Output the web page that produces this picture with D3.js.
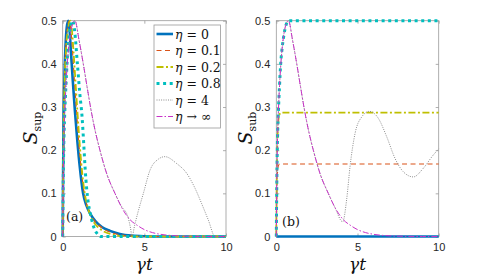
<!DOCTYPE html>
<html><head><meta charset="utf-8">
<script src="https://cdn.jsdelivr.net/npm/d3@7"></script>
<style>body{margin:0;background:#fff}svg{display:block}.m{font-family:"DejaVu Serif","Liberation Serif",serif}</style>
</head><body>
<svg id="c" width="485" height="276"></svg>
<script>
// ---------- data ----------
const xTicks = [0, 5, 10];
const yTicks = [0, 0.1, 0.2, 0.3, 0.4, 0.5];
const etaLabels = ["0", "0.1", "0.2", "0.8", "4", "∞"];

// panel (a): S_sup
const sup0 = [[0,0],[0.02,0.12],[0.05,0.25],[0.1,0.36],[0.17,0.44],[0.25,0.485],[0.34,0.5],[0.42,0.48],[0.5,0.43],[0.62,0.36],[0.75,0.29],[0.9,0.22],[1.05,0.16],[1.25,0.1],[1.45,0.072],[1.7,0.052],[2.0,0.036],[2.4,0.022],[2.9,0.013],[3.5,0.006],[4.2,0.002],[5,0.0005],[6,0],[10,0]];
const sup01 = [[0,0],[0.02,0.11],[0.05,0.23],[0.1,0.34],[0.18,0.43],[0.28,0.48],[0.4,0.5],[0.5,0.48],[0.6,0.43],[0.72,0.36],[0.85,0.29],[1.0,0.21],[1.15,0.15],[1.3,0.105],[1.5,0.07],[1.75,0.048],[2.05,0.032],[2.45,0.019],[2.9,0.01],[3.5,0.004],[4.2,0.001],[5,0],[10,0]];
const sup02 = [[0,0],[0.02,0.1],[0.05,0.22],[0.1,0.33],[0.2,0.43],[0.32,0.48],[0.46,0.5],[0.56,0.48],[0.66,0.43],[0.78,0.36],[0.9,0.29],[1.05,0.21],[1.2,0.145],[1.35,0.1],[1.55,0.065],[1.8,0.04],[2.1,0.024],[2.5,0.012],[3,0.005],[3.6,0.001],[4.5,0],[10,0]];
const sup08 = [[0,0],[0.03,0.12],[0.06,0.2],[0.12,0.28],[0.2,0.35],[0.28,0.41],[0.38,0.46],[0.5,0.49],[0.6,0.5],[0.72,0.48],[0.9,0.4],[1.05,0.33],[1.18,0.28],[1.28,0.22],[1.37,0.16],[1.47,0.11],[1.57,0.077],[1.68,0.055],[1.78,0.038],[1.9,0.022],[2.0,0.013],[2.15,0.005],[2.3,0],[10,0]];
const sup4 = [[0,0],[0.03,0.12],[0.06,0.2],[0.12,0.28],[0.2,0.35],[0.28,0.4],[0.4,0.45],[0.55,0.485],[0.75,0.5],[1.0,0.455],[1.26,0.4],[1.5,0.345],[1.75,0.29],[2.0,0.243],[2.28,0.2],[2.7,0.145],[3.2,0.1],[3.6,0.07],[4.0,0.045],[4.15,0.02],[4.25,0],[4.4,0.025],[4.6,0.055],[4.94,0.1],[5.35,0.154],[5.85,0.179],[6.26,0.185],[6.98,0.169],[7.6,0.146],[8.1,0.112],[8.5,0.077],[8.92,0.038],[9.33,0],[10,0]];
const supInf = [[0,0],[0.03,0.12],[0.06,0.2],[0.12,0.28],[0.2,0.35],[0.28,0.4],[0.4,0.45],[0.55,0.485],[0.75,0.5],[1.0,0.455],[1.26,0.4],[1.5,0.345],[1.75,0.29],[2.0,0.243],[2.28,0.2],[2.7,0.145],[3.2,0.1],[3.6,0.068],[4.1,0.04],[4.6,0.025],[5,0.016],[5.5,0.009],[6,0.005],[7,0.0015],[8,0.0004],[9,0],[10,0]];

// panel (b): S_sub
const sub0 = [[0,0],[10,0]];
const sub01 = [[0,0],[0.03,0.1],[0.07,0.145],[0.12,0.163],[0.2,0.168],[10,0.168]];
const sub02 = [[0,0],[0.03,0.13],[0.07,0.22],[0.12,0.265],[0.2,0.283],[0.3,0.287],[10,0.287]];
const sub08 = [[0,0],[0.03,0.12],[0.06,0.2],[0.12,0.28],[0.2,0.35],[0.27,0.4],[0.37,0.44],[0.47,0.467],[0.6,0.49],[0.75,0.5],[10,0.5]];
const sub4 = [[0,0],[0.03,0.12],[0.06,0.2],[0.12,0.28],[0.2,0.35],[0.28,0.4],[0.4,0.45],[0.55,0.485],[0.75,0.5],[1.0,0.455],[1.26,0.4],[1.5,0.345],[1.75,0.29],[2.0,0.243],[2.28,0.2],[2.7,0.145],[3.2,0.1],[3.6,0.068],[4.09,0.034],[4.33,0.085],[4.54,0.162],[4.85,0.239],[5.26,0.277],[5.73,0.29],[6.28,0.274],[6.8,0.231],[7.31,0.181],[7.82,0.15],[8.44,0.138],[9.05,0.158],[9.67,0.189],[10,0.203]];
const subInf = [[0,0],[0.03,0.12],[0.06,0.2],[0.12,0.28],[0.2,0.35],[0.28,0.4],[0.4,0.45],[0.55,0.485],[0.75,0.5],[1.0,0.455],[1.26,0.4],[1.5,0.345],[1.75,0.29],[2.0,0.243],[2.28,0.2],[2.7,0.145],[3.2,0.1],[3.6,0.068],[4.1,0.04],[4.6,0.025],[5,0.016],[5.5,0.009],[6,0.005],[7,0.0015],[8,0.0004],[9,0],[10,0]];

// ---------- styles ----------
const styles = [
  {color:"#0072BD", width:2.6, dash:null},
  {color:"#D95319", width:1.1, dash:"5,3.5"},
  {color:"#BFBF00", width:1.8, dash:"7,2.5,2,2.5"},
  {color:"#00BFBF", width:3, dash:"3,3.6"},
  {color:"#8c8c8c", width:1, dash:"1,1.3"},
  {color:"#C832C8", width:1, dash:"6,2,1.5,2"}
];

const svg = d3.select("#c");
const yRange = [236.5, 20.7];
const tickFont = "'Liberation Sans', Arial, Helvetica, sans-serif";

function panel(x0, x1, series, sub, tag, labelX, tagPos) {
  const x = d3.scaleLinear().domain([0,10]).range([x0, x1]);
  const y = d3.scaleLinear().domain([0,0.5]).range(yRange);
  const g = svg.append("g");
  const cid = "clip" + sub;
  svg.append("clipPath").attr("id", cid).append("rect")
    .attr("x", x0 - 3).attr("y", yRange[1] - 3).attr("width", x1 - x0 + 6).attr("height", yRange[0] - yRange[1] + 6);

  g.append("rect").attr("x", x0).attr("y", yRange[1]).attr("width", x1 - x0).attr("height", yRange[0] - yRange[1])
    .attr("fill", "#fff").attr("stroke", "#9a9a9a").attr("stroke-width", 0.8);

  const axB = d3.axisBottom(x).tickValues(xTicks).tickSize(-3).tickPadding(7).tickFormat(d3.format("d"));
  const axT = d3.axisTop(x).tickValues(xTicks).tickSize(-3).tickFormat("");
  const axL = d3.axisLeft(y).tickValues(yTicks).tickSize(-3).tickPadding(6).tickFormat(d => d === 0 ? "0" : d3.format(".1f")(d));
  const axR = d3.axisRight(y).tickValues(yTicks).tickSize(-3).tickFormat("");
  function style(sel) {
    sel.select(".domain").remove();
    sel.selectAll(".tick line").attr("stroke", "#9a9a9a").attr("stroke-width", 0.8);
    sel.selectAll(".tick text").attr("fill", "#262626").style("font-family", tickFont).style("font-size", "11px");
  }
  g.append("g").attr("transform", `translate(0,${yRange[0]})`).call(axB).call(style);
  g.append("g").attr("transform", `translate(0,${yRange[1]})`).call(axT).call(style);
  g.append("g").attr("transform", `translate(${x0},0)`).call(axL).call(style);
  g.append("g").attr("transform", `translate(${x1},0)`).call(axR).call(style);

  const line = d3.line().x(d => x(d[0])).y(d => y(d[1])).curve(d3.curveMonotoneX);
  const lg = g.append("g").attr("clip-path", `url(#${cid})`);
  series.forEach((s, i) => {
    const st = styles[i];
    lg.append("path").datum(s).attr("d", line).attr("fill", "none")
      .attr("stroke", st.color).attr("stroke-width", st.width)
      .attr("stroke-dasharray", st.dash).attr("stroke-linejoin", "round");
  });

  const xl = g.append("text").attr("class", "m").attr("x", (x0 + x1) / 2).attr("y", 270).attr("text-anchor", "middle")
    .style("font-size", "17px").style("font-style", "italic").attr("fill", "#111");
  xl.text("γt");

  const yl = g.append("text").attr("class", "m").attr("transform", `translate(${labelX},128) rotate(-90)`).attr("text-anchor", "middle")
    .attr("fill", "#111");
  yl.append("tspan").text("S").style("font-style", "italic").style("font-size", "19px");
  yl.append("tspan").text(sub).style("font-size", "11px").attr("dy", 4);

  g.append("text").attr("class", "m").attr("x", tagPos[0]).attr("y", tagPos[1]).text(tag)
    .style("font-size", "12.5px").attr("fill", "#111");
  return g;
}

panel(62.7, 226, [sup0, sup01, sup02, sup08, sup4, supInf], "sup", "(a)", 37, [66, 221]);
panel(276.3, 438.7, [sub0, sub01, sub02, sub08, sub4, subInf], "sub", "(b)", 252, [282, 226]);

// legend
const leg = svg.append("g");
leg.append("rect").attr("x", 154).attr("y", 25).attr("width", 66.5).attr("height", 103)
  .attr("fill", "#fff").attr("stroke", "#9a9a9a").attr("stroke-width", 0.8);
etaLabels.forEach((lab, i) => {
  const yy = 34 + i * 16.5;
  const st = styles[i];
  leg.append("line").attr("x1", 156.5).attr("x2", 173).attr("y1", yy).attr("y2", yy)
    .attr("stroke", st.color).attr("stroke-width", st.width).attr("stroke-dasharray", st.dash);
  const t = leg.append("text").attr("class", "m").attr("x", 175).attr("y", yy + 4.5)
    .style("font-size", "12.5px").attr("fill", "#111");
  t.append("tspan").text("η").style("font-style", "italic");
  t.append("tspan").text(lab === "∞" ? " → ∞" : " = " + lab);
});
</script>
</body></html>
